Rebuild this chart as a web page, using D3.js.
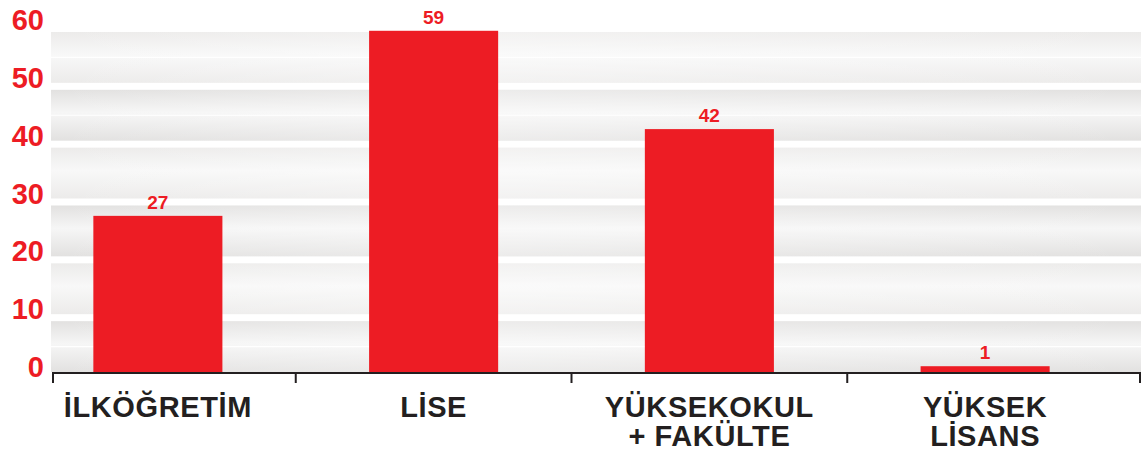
<!DOCTYPE html>
<meta charset="utf-8">
<style>
  body { margin: 0; background: #fff; }
  text { font-family: "Liberation Sans", Arial, sans-serif; font-weight: bold; }
</style>
<script src="https://d3js.org/d3.v7.min.js"></script>
<div id="chart"></div>
<script>
// data
const categories = ["İLKÖĞRETİM", "LİSE", "YÜKSEKOKUL\n+ FAKÜLTE", "YÜKSEK\nLİSANS"];
const values = [27, 59, 42, 1];
const yTicks = [0, 10, 20, 30, 40, 50, 60];

const W = 1141, H = 454;
const red = "#ed1c24", ink = "#231f20";
const axisLeft = 53, axisRight = 1140;

const svg = d3.select("#chart").append("svg")
  .attr("width", W).attr("height", H);

const y = d3.scaleLinear().domain([0, 60]).range([372, 25]);
const x = d3.scaleBand().domain(categories).range([20, 1123])
  .paddingInner(0.532).paddingOuter(0.266);

// gradients for the striped backdrop
const defs = svg.append("defs");
function grad(id, edge, mid) {
  const g = defs.append("linearGradient").attr("id", id)
    .attr("x1", 0).attr("y1", 0).attr("x2", 0).attr("y2", 1);
  g.append("stop").attr("offset", "0%").attr("stop-color", edge);
  g.append("stop").attr("offset", "45%").attr("stop-color", mid);
  g.append("stop").attr("offset", "100%").attr("stop-color", edge);
}
grad("dark", "#e2e1e0", "#f6f6f6");
grad("light", "#ecebea", "#f8f8f8");

// horizontal glare across the bands
const hg = defs.append("linearGradient").attr("id", "glare");
hg.append("stop").attr("offset", "0%").attr("stop-color", "#fff").attr("stop-opacity", 0);
hg.append("stop").attr("offset", "40%").attr("stop-color", "#fff").attr("stop-opacity", 0.35);
hg.append("stop").attr("offset", "100%").attr("stop-color", "#fff").attr("stop-opacity", 0);

const bands = yTicks.slice(0, -1);
const bg = svg.append("g");
bg.selectAll("rect.band").data(bands).join("rect")
  .attr("class", "band")
  .attr("x", 51).attr("width", W - 51)
  .attr("y", d => y(d + 10) + 7)
  .attr("height", d => y(d) - y(d + 10) - 7)
  .attr("fill", (d, i) => i % 2 === 0 ? "url(#dark)" : "url(#light)");
bg.selectAll("rect.glare").data(bands).join("rect")
  .attr("class", "glare")
  .attr("x", 51).attr("width", W - 51)
  .attr("y", d => y(d + 10) + 7)
  .attr("height", d => y(d) - y(d + 10) - 7)
  .attr("fill", "url(#glare)");
// thin white seams in some bands
bg.selectAll("line.seam").data([0, 40, 50]).join("line")
  .attr("class", "seam")
  .attr("x1", 51).attr("x2", W)
  .attr("y1", d => (y(d) + y(d + 10) + 7) / 2)
  .attr("y2", d => (y(d) + y(d + 10) + 7) / 2)
  .attr("stroke", "#fff").attr("stroke-width", 1.2);

// y tick labels
svg.append("g").selectAll("text").data(yTicks).join("text")
  .attr("x", 44).attr("y", d => y(d) - 5)
  .attr("dy", "0.35em")
  .attr("text-anchor", "end")
  .attr("fill", red).attr("font-size", 29)
  .text(d => d);

// bars
svg.append("g").selectAll("rect").data(values).join("rect")
  .attr("x", (d, i) => x(categories[i]))
  .attr("width", x.bandwidth())
  .attr("y", d => y(d))
  .attr("height", d => y(0) - y(d))
  .attr("fill", red);

// value labels
svg.append("g").selectAll("text").data(values).join("text")
  .attr("x", (d, i) => x(categories[i]) + x.bandwidth() / 2)
  .attr("y", d => y(d) - 7)
  .attr("text-anchor", "middle")
  .attr("fill", red).attr("font-size", 19)
  .text(d => d);

// x axis line and ticks at category boundaries
const gap = x.step() - x.bandwidth();
const tickXs = [axisLeft]
  .concat(categories.slice(1).map(c => x(c) - gap / 2))
  .concat([axisRight]);
const ax = svg.append("g");
ax.append("line")
  .attr("x1", axisLeft).attr("x2", W)
  .attr("y1", y(0) + 1).attr("y2", y(0) + 1)
  .attr("stroke", ink).attr("stroke-width", 2);
ax.selectAll("line.tick").data(tickXs).join("line")
  .attr("class", "tick")
  .attr("x1", d => d).attr("x2", d => d)
  .attr("y1", y(0)).attr("y2", y(0) + 11)
  .attr("stroke", ink).attr("stroke-width", 2);

// category labels, one text per line
const lines = categories.flatMap(c => c.split("\n").map((t, i) => ({t, c, i})));
ax.selectAll("text").data(lines).join("text")
  .attr("text-anchor", "middle")
  .attr("fill", ink).attr("font-size", 29)
  .attr("letter-spacing", 0.6)
  .attr("x", d => x(d.c) + x.bandwidth() / 2)
  .attr("y", d => 417 + d.i * 29)
  .text(d => d.t);
</script>
